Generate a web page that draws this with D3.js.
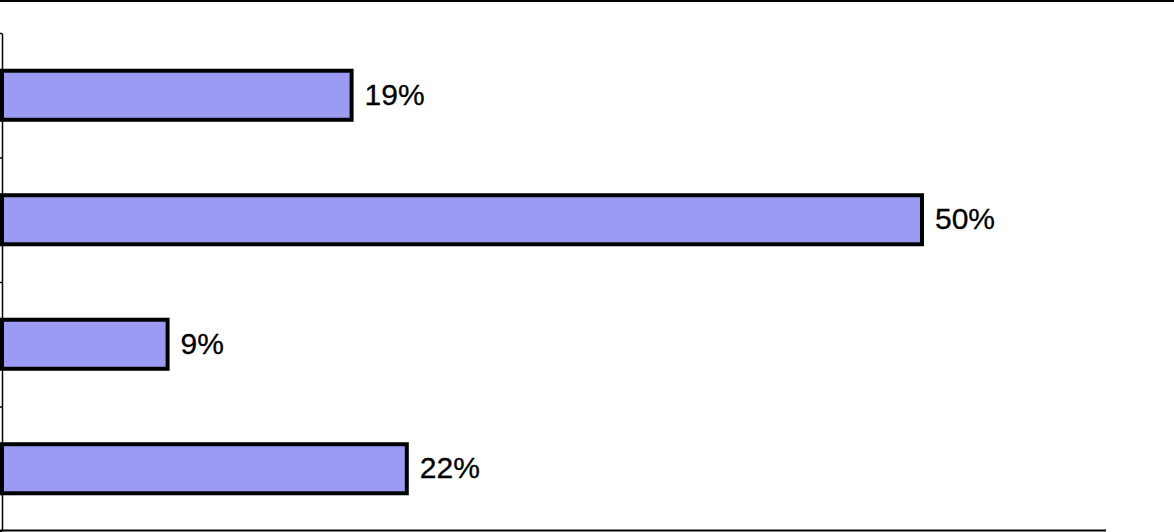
<!DOCTYPE html>
<html>
<head>
<meta charset="utf-8">
<script src="https://cdn.jsdelivr.net/npm/d3@7"></script>
<style>
  html, body { margin: 0; padding: 0; background: #fff; }
  svg { display: block; }
</style>
</head>
<body>
<svg id="chart" width="1174" height="532"></svg>
<script>
const categories = ["Item 1", "Item 2", "Item 3", "Item 4"];
const values = [19, 50, 9, 22];
const xDomain = [0, 60];

(function () {
const svg = d3.select("#chart");
const W = 1174, H = 532;
const mLeft = 2, mRight = 1106, mTop = 33, mBottom = 531;

const x = d3.scaleLinear().domain(xDomain).range([mLeft, mRight]);
const y = d3.scaleBand().domain(categories).range([mTop, mBottom])
  .paddingInner(0.606).paddingOuter(0.303);

// top frame line
svg.append("line").attr("x1", 0).attr("x2", W).attr("y1", 1).attr("y2", 1)
  .attr("stroke", "#000").attr("stroke-width", 2);

// bars
svg.append("g").selectAll("rect").data(values).join("rect")
  .attr("x", x(0))
  .attr("y", (d, i) => y(categories[i]))
  .attr("width", d => x(d) - x(0))
  .attr("height", y.bandwidth())
  .attr("fill", "#9b9bf3")
  .attr("stroke", "#000")
  .attr("stroke-width", 4);

// labels
svg.append("g").selectAll("text").data(values).join("text")
  .attr("x", d => x(d) + 13)
  .attr("y", (d, i) => y(categories[i]) + y.bandwidth() / 2 + 9.5)
  .attr("font-family", "'Liberation Sans', Arial, sans-serif")
  .attr("font-size", 30)
  .attr("fill", "#000")
  .attr("stroke", "#000")
  .attr("stroke-width", 0.3)
  .text(d => d + "%");

// left axis with ticks at band boundaries
const yEdges = d3.scaleLinear().domain([0, categories.length]).range([mTop, mBottom]);
const gy = svg.append("g").attr("transform", `translate(${mLeft},0)`)
  .call(d3.axisLeft(yEdges).tickValues(d3.range(categories.length + 1))
    .tickSize(3).tickSizeOuter(0).tickFormat(""));
gy.select(".domain").attr("stroke", "#000").attr("stroke-width", 1.5);
gy.selectAll(".tick line").attr("stroke", "#000").attr("stroke-width", 1.5);

// bottom axis
const gx = svg.append("g").attr("transform", `translate(0,${mBottom - 0.5})`)
  .call(d3.axisBottom(x).tickValues([]).tickSizeOuter(0));
gx.select(".domain").attr("stroke", "#000").attr("stroke-width", 2)
  .attr("d", `M0,0H${mRight}`);
})();
</script>
</body>
</html>
